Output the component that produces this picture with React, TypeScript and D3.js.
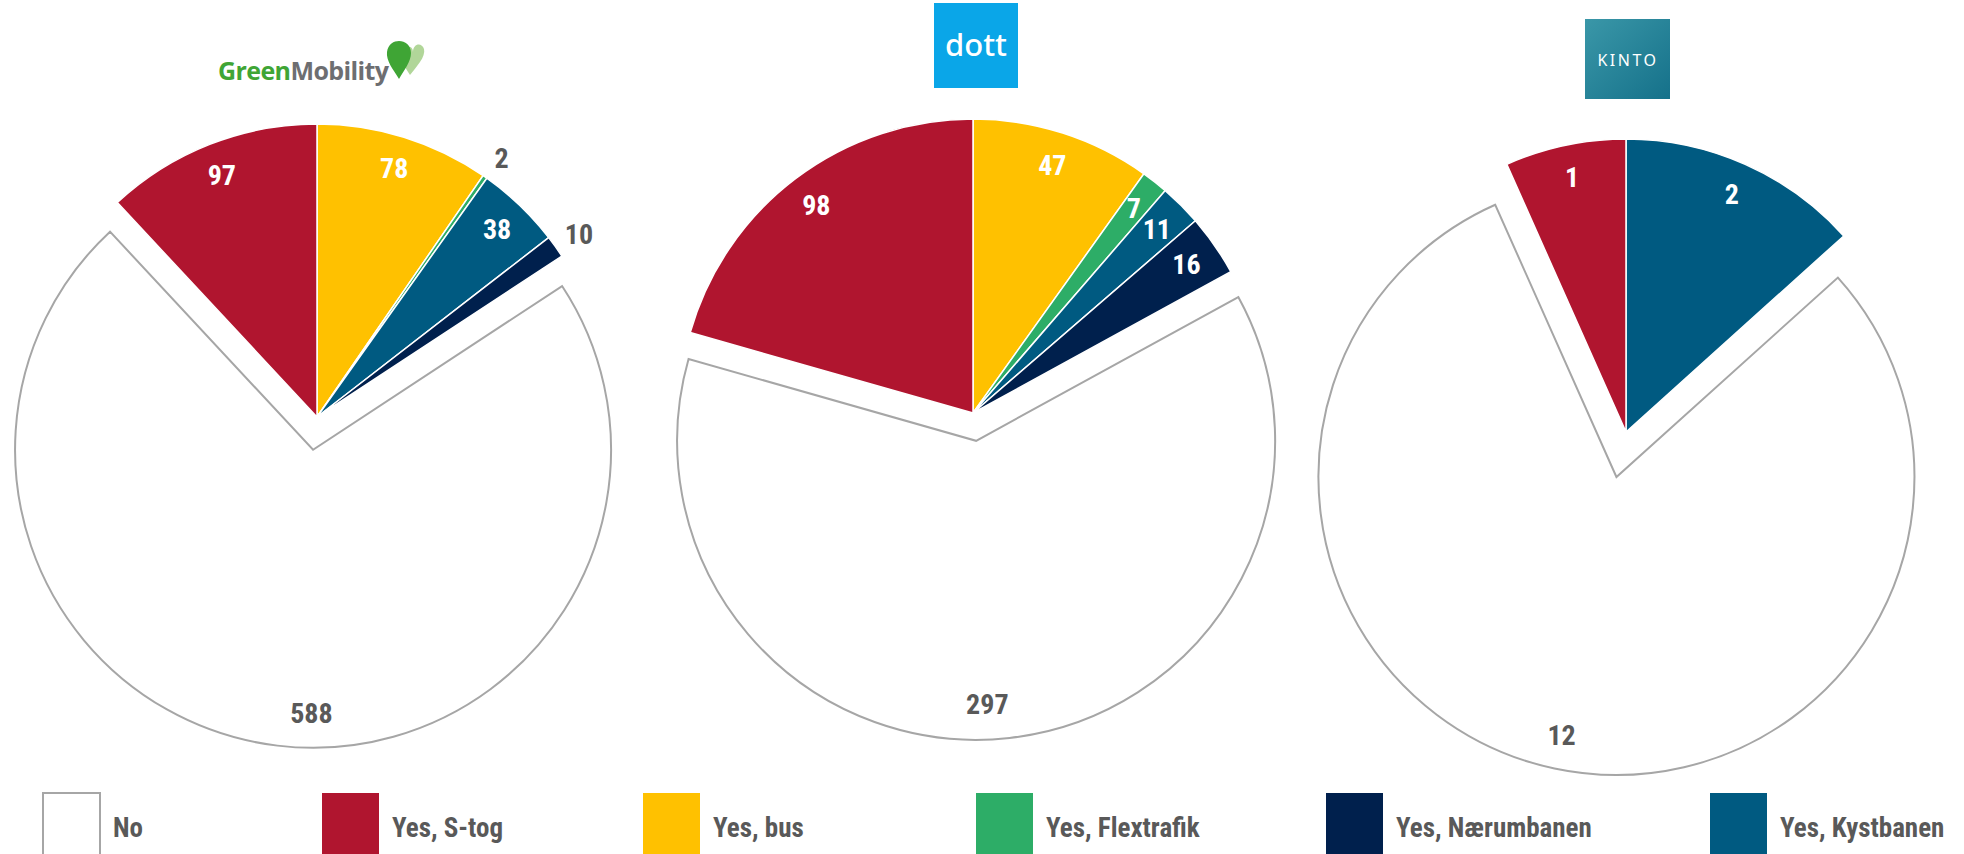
import React from "react";
import * as d3 from "d3";

// ---- data ----
const categories = ["Yes, bus", "Yes, Flextrafik", "Yes, Kystbanen", "Yes, Nærumbanen", "No", "Yes, S-tog"];
const greenMobilityValues = [78, 2, 38, 10, 588, 97];
const dottValues = [47, 7, 11, 16, 297, 98];
const kintoValues = [0, 0, 2, 0, 12, 1];

const legendOrder = ["No", "Yes, S-tog", "Yes, bus", "Yes, Flextrafik", "Yes, Nærumbanen", "Yes, Kystbanen"];

const colors: Record<string, string> = {
  "No": "#FFFFFF",
  "Yes, S-tog": "#B0152F",
  "Yes, bus": "#FFC100",
  "Yes, Flextrafik": "#2DAD67",
  "Yes, Nærumbanen": "#00204D",
  "Yes, Kystbanen": "#005A81",
};

const pies = [
  { name: "GreenMobility", values: greenMobilityValues, cx: 317, cy: 417, r: 293, explode: 33, noLabelShift: -6.5 },
  { name: "dott", values: dottValues, cx: 973, cy: 413, r: 294, explode: 28, noLabelShift: 4 },
  { name: "KINTO", values: kintoValues, cx: 1626, cy: 432, r: 293, explode: 46, noLabelShift: 0 },
];

const FONT = "'Liberation Sans Narrow', 'Roboto Condensed', 'DejaVu Sans Condensed', Roboto, sans-serif";
const GRAY = "#595959";

type Slice = d3.PieArcDatum<{ cat: string; v: number }>;

function PieChart({ p }: { p: (typeof pies)[number] }) {
  const data = categories.map((c, i) => ({ cat: c, v: p.values[i] }));
  const arcs = d3
    .pie<{ cat: string; v: number }>()
    .sort(null)
    .value((d) => d.v)
    .startAngle(0)
    .endAngle(2 * Math.PI)(data);
  const arc = d3.arc<Slice>().innerRadius(0).outerRadius(p.r);
  const arcNo = d3.arc<Slice>().innerRadius(0).outerRadius(p.r + 5);
  const inLabel = d3.arc<Slice>().innerRadius(260).outerRadius(260);
  const outLabel = d3.arc<Slice>().innerRadius(322).outerRadius(322);

  return (
    <g transform={`translate(${p.cx},${p.cy})`}>
      {arcs
        .filter((a) => a.value > 0)
        .map((a) => {
          const isNo = a.data.cat === "No";
          const mid = (a.startAngle + a.endAngle) / 2;
          const dx = isNo ? Math.sin(mid) * p.explode : 0;
          const dy = isNo ? -Math.cos(mid) * p.explode : 0;
          return (
            <path
              key={a.data.cat}
              d={(isNo ? arcNo(a) : arc(a)) || ""}
              transform={`translate(${dx},${dy})`}
              fill={colors[a.data.cat]}
              stroke={isNo ? "#A6A6A6" : "#FFFFFF"}
              strokeWidth={isNo ? 2 : 1.5}
              strokeLinejoin="miter"
            />
          );
        })}
      {arcs
        .filter((a) => a.value > 0)
        .map((a) => {
          const isNo = a.data.cat === "No";
          const mid = (a.startAngle + a.endAngle) / 2;
          const span = a.endAngle - a.startAngle;
          const outside = !isNo && span < 0.09;
          let x: number, y: number;
          if (isNo) {
            const la = mid + (p.noLabelShift * Math.PI) / 180;
            x = Math.sin(la) * 264 + Math.sin(mid) * p.explode;
            y = -Math.cos(la) * 264 - Math.cos(mid) * p.explode;
          } else if (outside) {
            [x, y] = outLabel.centroid(a);
            y += 5;
          } else {
            [x, y] = inLabel.centroid(a);
          }
          return (
            <text
              key={"l" + a.data.cat}
              x={x}
              y={y}
              textAnchor="middle"
              dominantBaseline="central"
              fontFamily={FONT}
              fontWeight={700}
              fontSize={28}
              fill={isNo || outside ? GRAY : "#FFFFFF"}
            >
              {a.value}
            </text>
          );
        })}
    </g>
  );
}

function Logos() {
  return (
    <g>
      {/* GreenMobility */}
      <text x={218} y={80} fontFamily="'Open Sans', Lato, sans-serif" fontWeight={700} fontSize={25} letterSpacing={-0.6}>
        <tspan fill="#3FA535">Green</tspan>
        <tspan fill="#6D6E71">Mobility</tspan>
      </text>
      <path d="M413,52 C413,43 422,42 424,49 C426,57 416,67 410,75 C405,67 399,59 404,50 C407,45 413,46 413,52 Z" fill="#A9D18E" opacity={0.9} />
      <path d="M399,79 C393,69 386,61 387,52 C388,44 394,41 399,41 C405,41 411,45 411,53 C411,62 404,70 399,79 Z" fill="#3FA535" />
      {/* dott */}
      <rect x={934} y={3} width={84} height={85} fill="#0AA6E8" />
      <text x={976} y={56} textAnchor="middle" fontFamily="'Noto Sans', Roboto, sans-serif" fontWeight={500} fontSize={31} fill="#FFFFFF">
        dott
      </text>
      {/* KINTO */}
      <defs>
        <linearGradient id="kintoGrad" x1="0" y1="0" x2="1" y2="1">
          <stop offset="0" stopColor="#3A97A8" />
          <stop offset="1" stopColor="#15718A" />
        </linearGradient>
      </defs>
      <rect x={1585} y={19} width={85} height={80} fill="url(#kintoGrad)" />
      <text x={1628} y={66} textAnchor="middle" fontFamily="'Noto Sans', Roboto, sans-serif" fontWeight={400} fontSize={16} letterSpacing={2.5} fill="#FFFFFF">
        KINTO
      </text>
    </g>
  );
}

const legendX = d3.scalePoint<string>().domain(legendOrder).range([43, 1710]);

function Legend() {
  const xs = [43, 322, 643, 976, 1326, 1710];
  return (
    <g>
      {legendOrder.map((c, i) => (
        <g key={c} transform={`translate(${xs[i] ?? legendX(c)},793)`}>
          <rect
            x={0}
            y={0}
            width={57}
            height={70}
            fill={colors[c]}
            stroke={c === "No" ? "#A6A6A6" : "none"}
            strokeWidth={2}
          />
          <text x={70} y={35} dominantBaseline="central" fontFamily={FONT} fontWeight={700} fontSize={27} fill={GRAY}>
            {c}
          </text>
        </g>
      ))}
    </g>
  );
}

export default function App() {
  return (
    <svg
      width={1964}
      height={854}
      viewBox="0 0 1964 854"
      style={{ position: "absolute", left: 0, top: 0, background: "#FFFFFF" }}
    >
      <rect width={1964} height={854} fill="#FFFFFF" />
      {pies.map((p) => (
        <PieChart key={p.name} p={p} />
      ))}
      <Logos />
      <Legend />
    </svg>
  );
}
